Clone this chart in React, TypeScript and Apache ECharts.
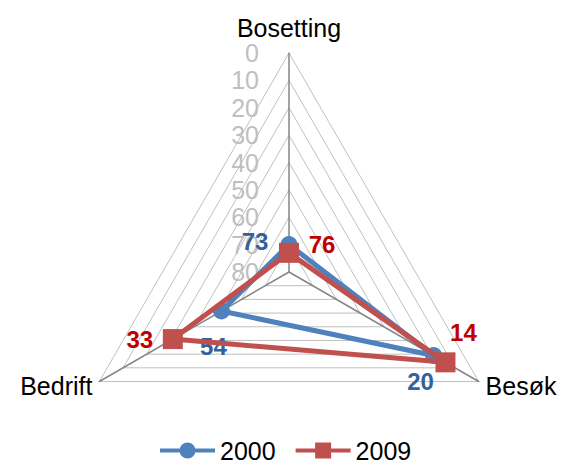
import React, { useEffect, useRef } from 'react';
import * as echarts from 'echarts';

// Indicators in ECharts' counter-clockwise order starting at the top
const indicators = ['Bosetting', 'Bedrift', 'Besøk'];
const axisMax = 80; // axis runs from 0 (outer ring) to 80 (centre)
const splitCount = 8;
const seriesNames = ['2000', '2009'];
// positions (0 = outer ring, 80 = centre)
const values2000 = [70, 51.5, 19];
const values2009 = [73, 31, 14];
// data label texts as printed in the picture
const labels2000 = ['73', '54', '20'];
const labels2009 = ['76', '33', '14'];

const FONT = '"Liberation Sans", Arial, sans-serif';
const lineColors = ['#4f81bd', '#c0504d'];
const labelColors = ['#35609a', '#c00000'];
// label centre offsets (dx, dy) relative to the marker, per indicator
const labelOffsets = [
  [[-34, -3], [-8, 35], [-13, 26]],
  [[33, -8], [-33, 0], [18, -30]],
];

function richFor(seriesIdx: number, color: string) {
  const rich: Record<string, any> = {};
  labelOffsets[seriesIdx].forEach(([dx, dy], i) => {
    rich['s' + i] = {
      color,
      fontSize: 24,
      fontWeight: 'bold',
      fontFamily: FONT,
      padding: [dy > 0 ? 2 * dy : 0, dx < 0 ? -2 * dx : 0, dy < 0 ? -2 * dy : 0, dx > 0 ? 2 * dx : 0],
    };
  });
  return rich;
}

export default function App() {
  const ref = useRef<HTMLDivElement>(null);
  useEffect(() => {
    if (!ref.current) return;
    const chart = echarts.init(ref.current, undefined, { renderer: 'svg' });
    const series = [values2000, values2009].map((vals, si) => {
      const plotted = vals.map((v) => axisMax - v);
      const texts = si === 0 ? labels2000 : labels2009;
      return {
        name: seriesNames[si],
        type: 'radar',
        z: 2 + si,
        symbol: si === 0 ? 'circle' : 'rect',
        symbolSize: si === 0 ? 17 : 20,
        lineStyle: { color: lineColors[si], width: 5 },
        itemStyle: { color: lineColors[si] },
        label: {
          show: true,
          position: 'inside',
          fontSize: 24,
          fontWeight: 'bold',
          fontFamily: FONT,
          color: labelColors[si],
          formatter: (p: any) => {
            let i = p.dimensionIndex;
            if (i == null) i = plotted.indexOf(p.value);
            return '{s' + i + '|' + texts[i] + '}';
          },
          rich: richFor(si, labelColors[si]),
        },
        data: [{ name: seriesNames[si], value: plotted }],
      };
    });
    chart.setOption({
      animation: false,
      textStyle: { fontFamily: FONT },
      legend: {
        top: 436,
        left: 155,
        padding: [2, 5, 2, 5],
        itemWidth: 55,
        itemHeight: 16,
        itemGap: 20,
        textStyle: { fontSize: 25, lineHeight: 22, color: '#000', fontFamily: FONT },
        data: [
          { name: '2000', icon: 'path://M0,6H55V10H0Z M35.5,8A8,8 0 1,1 19.5,8A8,8 0 1,1 35.5,8Z' },
          { name: '2009', icon: 'path://M0,6H55V10H0Z M19.5,0H35.5V16H19.5Z' },
        ],
      },
      radar: {
        center: [289, 272],
        radius: 219,
        startAngle: 90,
        shape: 'polygon',
        splitNumber: splitCount,
        nameGap: 8,
        axisName: { color: '#000', fontSize: 25, fontFamily: FONT },
        axisLine: { lineStyle: { color: '#868686', width: 1.5 } },
        splitLine: { lineStyle: { color: '#c0c0c0', width: 1 } },
        splitArea: { show: false },
        axisTick: { show: false },
        axisLabel: { show: false },
        indicator: indicators.map((name, i) => ({
          name,
          min: 0,
          max: axisMax,
          ...(i === 0
            ? {
                axisLabel: {
                  show: true,
                  color: '#bfbfbf',
                  fontSize: 25,
                  fontFamily: FONT,
                  margin: 30,
                  formatter: (v: number) => String(axisMax - v),
                },
              }
            : {}),
        })),
      },
      series,
    });
    return () => chart.dispose();
  }, []);
  return (
    <div
      ref={ref}
      style={{ position: 'absolute', left: 0, top: 0, width: 563, height: 463, background: '#fff' }}
    />
  );
}
